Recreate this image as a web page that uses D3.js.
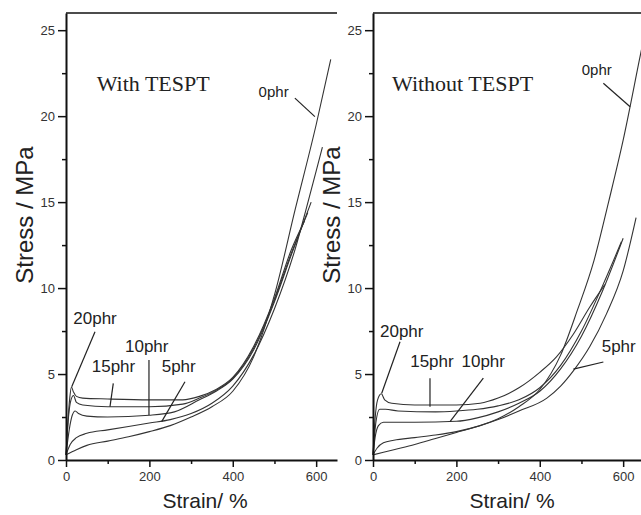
<!DOCTYPE html>
<html>
<head>
<meta charset="utf-8">
<script src="https://cdn.jsdelivr.net/npm/d3@7"></script>
<style>
  body { margin: 0; background: #fff; }
  svg text { fill: #222; }
</style>
</head>
<body>
<svg id="chart"></svg>
<script>
// tick values
const strainTicks = [0, 200, 400, 600];
const strainMinor = [100, 300, 500];
const stressTicks = [0, 5, 10, 15, 20, 25];
const stressMinor = [2.5, 7.5, 12.5, 17.5, 22.5];
const panelTitles = ["With TESPT", "Without TESPT"];
const grades = ["0phr", "5phr", "10phr", "15phr", "20phr"];

// With TESPT: [strain %, stress MPa]
const with0 = [[0,0.3],[25,0.6],[50,0.85],[100,1.1],[150,1.35],[200,1.65],[250,2.0],[300,2.5],[350,3.1],[400,4.0],[450,6.0],[500,9.6],[550,14.6],[600,19.5],[635,23.3]];
const with5 = [[0,0.3],[10,0.9],[25,1.3],[50,1.55],[100,1.75],[150,1.95],[200,2.15],[250,2.35],[300,2.7],[350,3.3],[400,4.3],[450,6.1],[500,8.8],[550,12.3],[575,14.5],[600,16.8],[615,18.2]];
const with10 = [[0,0.3],[8,1.8],[15,2.6],[22,2.85],[30,2.7],[50,2.55],[100,2.5],[200,2.6],[260,2.8],[320,3.5],[360,4.0],[400,4.7],[450,6.4],[500,9.2],[540,11.9],[588,15.0]];
const with15 = [[0,0.3],[6,2.5],[12,3.5],[18,3.75],[25,3.35],[40,3.2],[100,3.1],[200,3.1],[280,3.25],[320,3.6],[360,4.05],[400,4.75],[450,6.5],[500,9.3],[540,12.0],[580,14.4]];
const with20 = [[0,0.3],[4,2.0],[9,3.6],[13,4.25],[18,3.95],[25,3.7],[40,3.6],[100,3.55],[200,3.5],[280,3.5],[320,3.7],[360,4.1],[400,4.8],[450,6.6],[500,9.4],[540,12.2],[572,13.9]];

// Without TESPT
const without0 = [[0,0.3],[50,0.6],[100,0.9],[150,1.25],[200,1.6],[250,1.95],[300,2.4],[350,3.1],[400,4.1],[450,6.1],[490,8.7],[530,11.6],[565,15.0],[600,18.6],[640,23.4],[665,26.4]];
const without5 = [[0,0.3],[10,0.7],[25,1.0],[50,1.15],[100,1.3],[150,1.45],[200,1.65],[257,2.0],[300,2.35],[350,2.85],[417,3.6],[450,4.3],[481,5.2],[520,6.6],[560,8.5],[600,11.0],[631,14.1]];
const without10 = [[0,0.3],[5,1.3],[13,2.0],[25,2.2],[100,2.2],[200,2.25],[250,2.45],[300,2.8],[350,3.3],[400,4.0],[450,5.3],[500,7.2],[550,9.8],[600,12.9]];
const without15 = [[0,0.3],[7,2.2],[16,2.95],[30,2.95],[60,2.85],[150,2.8],[200,2.85],[250,2.95],[300,3.15],[350,3.5],[400,4.2],[450,5.5],[500,7.5],[550,10.1],[596,12.7]];
const without20 = [[0,0.3],[5,2.4],[11,3.5],[20,3.85],[28,3.5],[45,3.3],[100,3.2],[200,3.2],[257,3.3],[300,3.6],[350,4.2],[400,5.1],[440,6.0],[480,7.3],[520,8.9],[556,10.2]];

// label placement in data units: text anchor, leader start, leader end
const labelsWith = [
  {t: "0phr", at: [462, 21.1], from: [549, 21.05], to: [597, 19.97], small: true},
  {t: "20phr", at: [17.5, 7.9], from: [69.6, 7.46], to: [13.7, 4.26]},
  {t: "15phr", at: [61.7, 5.14], from: [113.4, 4.46], to: [105.5, 3.1]},
  {t: "10phr", at: [141.5, 6.28], from: [199, 5.82], to: [199, 2.62]},
  {t: "5phr", at: [229.5, 5.14], from: [285.4, 4.55], to: [229.5, 2.23]}
];
const labelsWithout = [
  {t: "0phr", at: [500.6, 22.4], from: [552.5, 21.91], to: [616.7, 20.55], small: true},
  {t: "20phr", at: [16.8, 7.14], from: [64.8, 6.88], to: [20.9, 3.88]},
  {t: "15phr", at: [89.2, 5.41], from: [136.7, 4.76], to: [136.7, 3.1]},
  {t: "10phr", at: [212.3, 5.41], from: [264.6, 4.76], to: [184.7, 2.23]},
  {t: "5phr", at: [548.5, 6.29], from: [552.5, 5.7], to: [480.6, 5.29]}
];

const sans = 'Arial, "Liberation Sans", sans-serif';
const serif = '"Liberation Serif", "Times New Roman", serif';

const width = 641;
const height = 515;
const svg = d3.select('#chart')
    .attr('width', width)
    .attr('height', height)
    .style('font-family', sans);

const yScale = d3.scaleLinear()
    .domain([0, 26])
    .range([460, 13]);

function drawPanel(x0, curves, labels, title) {
    const xScale = d3.scaleLinear()
        .domain([0, 650])
        .range([x0, x0 + 271]);

    const g = svg.append('g');

    const line = d3.line()
        .x(d => xScale(d[0]))
        .y(d => yScale(d[1]))
        .curve(d3.curveMonotoneX);

    g.selectAll('path.curve')
        .data(curves)
        .join('path')
        .attr('class', 'curve')
        .attr('d', line)
        .attr('fill', 'none')
        .attr('stroke', '#333')
        .attr('stroke-width', 1.1);

    // top frame
    g.append('line')
        .attr('x1', xScale(0)).attr('x2', xScale(650))
        .attr('y1', yScale(26)).attr('y2', yScale(26))
        .attr('stroke', '#111').attr('stroke-width', 1.5);

    g.append('g')
        .attr('transform', `translate(${xScale(0)},0)`)
        .call(d3.axisLeft(yScale).tickValues(stressTicks).tickSize(8).tickSizeOuter(0).tickPadding(3));
    g.append('g')
        .attr('transform', `translate(${xScale(0)},0)`)
        .call(d3.axisLeft(yScale).tickValues(stressMinor).tickSize(4).tickFormat(''))
        .call(a => a.select('.domain').remove());

    g.append('g')
        .attr('transform', `translate(0,${yScale(0)})`)
        .call(d3.axisBottom(xScale).tickValues(strainTicks).tickSize(7).tickSizeOuter(0).tickPadding(5));
    g.append('g')
        .attr('transform', `translate(0,${yScale(0)})`)
        .call(d3.axisBottom(xScale).tickValues(strainMinor).tickSize(4).tickFormat(''))
        .call(a => a.select('.domain').remove());

    g.selectAll('.domain').attr('stroke', '#111').attr('stroke-width', 2);
    g.selectAll('.tick line').attr('stroke', '#111').attr('stroke-width', 1.5);
    g.selectAll('.tick text')
        .style('font-family', sans)
        .style('font-size', '13px')
        .style('fill', '#333');

    // axis titles
    g.append('text')
        .attr('transform', `translate(${x0 - 33},215) rotate(-90)`)
        .attr('text-anchor', 'middle')
        .style('font-size', '24px')
        .text('Stress / MPa');
    g.append('text')
        .attr('x', x0 + 139)
        .attr('y', 508)
        .attr('text-anchor', 'middle')
        .style('font-size', '21px')
        .text('Strain/ %');

    // panel title
    g.append('text')
        .attr('x', xScale(title.at[0]))
        .attr('y', yScale(title.at[1]))
        .style('font-family', serif)
        .style('font-size', '22px')
        .text(title.t);

    // curve labels with leaders
    g.selectAll('line.leader')
        .data(labels)
        .join('line')
        .attr('class', 'leader')
        .attr('x1', d => xScale(d.from[0])).attr('y1', d => yScale(d.from[1]))
        .attr('x2', d => xScale(d.to[0])).attr('y2', d => yScale(d.to[1]))
        .attr('stroke', '#222').attr('stroke-width', 1.2);

    g.selectAll('text.lab')
        .data(labels)
        .join('text')
        .attr('class', 'lab')
        .attr('x', d => xScale(d.at[0]))
        .attr('y', d => yScale(d.at[1]))
        .style('font-size', d => d.small ? '15px' : '17px')
        .text(d => d.t);
}

drawPanel(66, [with0, with5, with10, with15, with20], labelsWith,
    {t: panelTitles[0], at: [73.6, 21.47]});
drawPanel(373, [without0, without5, without10, without15, without20], labelsWithout,
    {t: panelTitles[1], at: [45.6, 21.47]});
</script>
</body>
</html>
